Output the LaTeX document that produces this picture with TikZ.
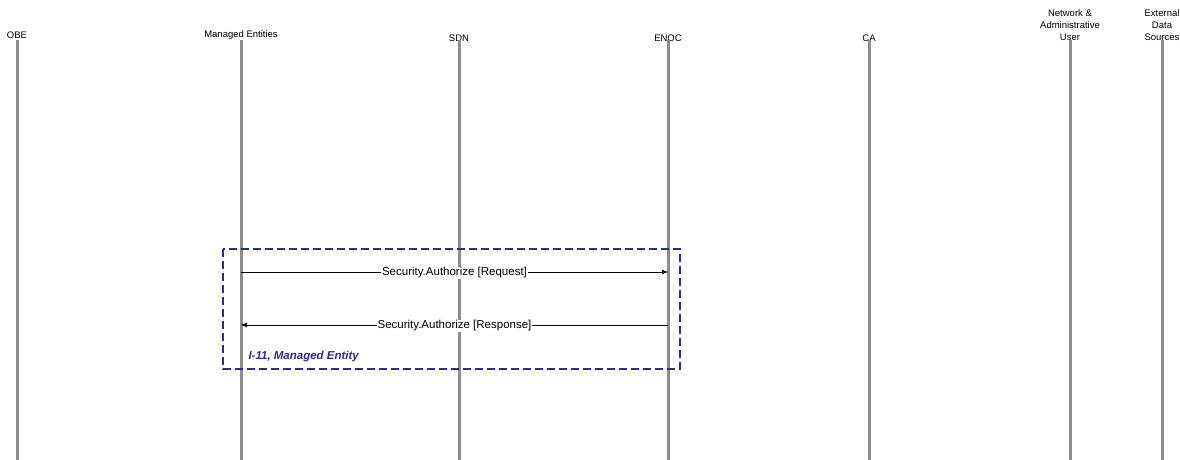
\documentclass[tikz,border=0pt]{standalone}
\usepackage{fontspec}
\setmainfont{Liberation Sans}
\usetikzlibrary{arrows.meta,calc}

\definecolor{lifegray}{HTML}{8C8C8C}
\definecolor{boxnavy}{HTML}{2A2AA0}

\begin{document}
\begin{tikzpicture}[x=1pt,y=-1pt,
  head/.style={anchor=south,align=center,inner sep=1pt,font=\fontsize{9.5}{12}\selectfont},
  life/.style={lifegray,line width=3pt},
  msg/.style={-{Latex[length=6pt,width=5pt]},line width=0.6pt},
  msglabel/.style={fill=white,inner sep=1pt,yshift=-1pt,font=\fontsize{11.5}{13}\selectfont}]
\useasboundingbox (0,0) rectangle (1180,460);
% lifeline heads
\node[head] (obe) at (17,40) {OBE};
\node[head] (me) at (241,41) {Managed Entities};
\node[head] (sdn) at (459,43) {SDN};
\node[head] (enoc) at (668,43) {ENOC};
\node[head] (ca) at (869,43) {CA};
\node[head] (nau) at (1070,42) {Network \&\\Administrative\\User};
\node[head] (eds) at (1162,42) {External\\Data\\Sources};
% lifelines
\foreach \n in {obe,me,sdn,enoc,ca,nau,eds}
  \draw[life] (\n.south |- 0,40) -- (\n.south |- 0,460);
% interface box
\draw[draw=boxnavy,line width=1.3pt,dash pattern=on 8pt off 4pt] (223,249) rectangle (680,369);
\node[anchor=west,text=boxnavy,font=\fontsize{11.5}{13}\selectfont\bfseries\itshape] (ifc) at (245,357) {I-11, Managed Entity};
% messages
\coordinate (reqA) at (me.south |- 0,272); \coordinate (reqB) at (enoc.south |- 0,272);
\coordinate (resA) at (enoc.south |- 0,325); \coordinate (resB) at (me.south |- 0,325);
\draw[msg] (reqA) -- node[msglabel] {Security.Authorize [Request]} (reqB);
\draw[msg] (resA) -- node[msglabel] {Security.Authorize [Response]} (resB);
\end{tikzpicture}
\end{document}
